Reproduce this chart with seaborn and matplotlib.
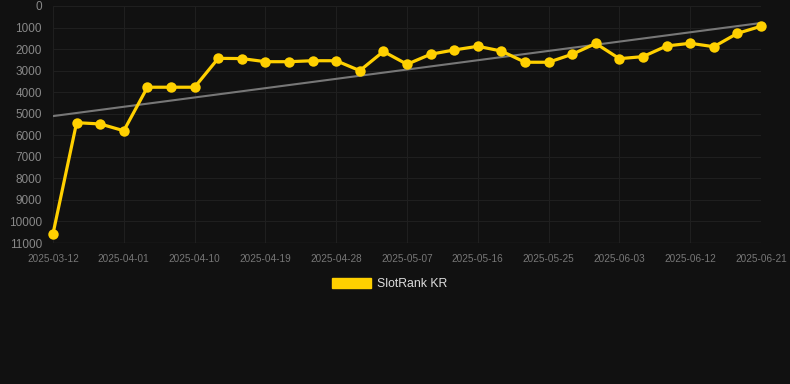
import matplotlib
matplotlib.use("Agg")
import matplotlib.pyplot as plt
from matplotlib.patches import Patch
import seaborn as sns
import pandas as pd

dates = ["2025-03-12", "2025-03-19", "2025-03-26",
         "2025-04-01", "2025-04-04", "2025-04-07", "2025-04-10", "2025-04-13",
         "2025-04-16", "2025-04-19", "2025-04-22", "2025-04-25", "2025-04-28",
         "2025-05-01", "2025-05-04", "2025-05-07", "2025-05-10", "2025-05-13",
         "2025-05-16", "2025-05-19", "2025-05-22", "2025-05-25", "2025-05-28",
         "2025-05-31", "2025-06-03", "2025-06-06", "2025-06-09", "2025-06-12",
         "2025-06-15", "2025-06-18", "2025-06-21"]
ranks = [10570, 5415, 5475, 5790, 3770, 3770, 3770, 2430, 2440, 2585, 2585,
         2540, 2540, 3000, 2110, 2705, 2240, 2040, 1870, 2090, 2610, 2610,
         2240, 1740, 2445, 2350, 1855, 1730, 1890, 1270, 940]
series_name = "SlotRank KR"
y_ticks = [0, 1000, 2000, 3000, 4000, 5000, 6000, 7000, 8000, 9000, 10000, 11000]

df = pd.DataFrame({"idx": list(range(len(dates))), "date": dates, "rank": ranks})

sns.set_theme(style="dark")
plt.rcParams["font.family"] = ["Liberation Sans", "DejaVu Sans"]

bg = "#111111"
gold = "#FFD000"
fig = plt.figure(figsize=(7.9, 3.84), dpi=100, facecolor=bg)
ax = fig.add_axes([53/790, 1-243/384, (761-53)/790, (243-6)/384])
ax.set_facecolor(bg)

sns.regplot(data=df, x="idx", y="rank", scatter=False, ci=None, ax=ax,
            line_kws={"color": "#777777", "linewidth": 1.5, "zorder": 2})
sns.lineplot(data=df, x="idx", y="rank", ax=ax, color=gold, linewidth=2.3,
             marker="o", markersize=7.5, markeredgewidth=0, zorder=3,
             clip_on=False)

ax.set_xlim(0, len(dates)-1)
ax.set_ylim(11000, 0)
ax.set_yticks(y_ticks)
ax.set_yticklabels([str(v) for v in y_ticks])
xt = list(range(0, len(dates), 3))
ax.set_xticks(xt)
ax.set_xticklabels([dates[i] for i in xt])
ax.tick_params(axis="y", colors="#888888", labelsize=8.5, length=0, pad=8)
ax.tick_params(axis="x", colors="#777777", labelsize=7.2, length=0, pad=8)
ax.grid(True, color="#1f1f1f", linewidth=0.8)
ax.set_axisbelow(True)
ax.set_xlabel("")
ax.set_ylabel("")
for s in ax.spines.values():
    s.set_visible(False)
ax.axhline(11000, color="#2a2a2a", linewidth=1, zorder=1)

handle = Patch(facecolor=gold, edgecolor=gold)
fig.legend([handle], [series_name], loc="center", bbox_to_anchor=(0.493, 1-284/384),
           frameon=False, fontsize=8.8, labelcolor="#dddddd",
           handlelength=3.2, handleheight=0.95, handletextpad=0.5)

fig.savefig("out.png", dpi=100, facecolor=bg)
